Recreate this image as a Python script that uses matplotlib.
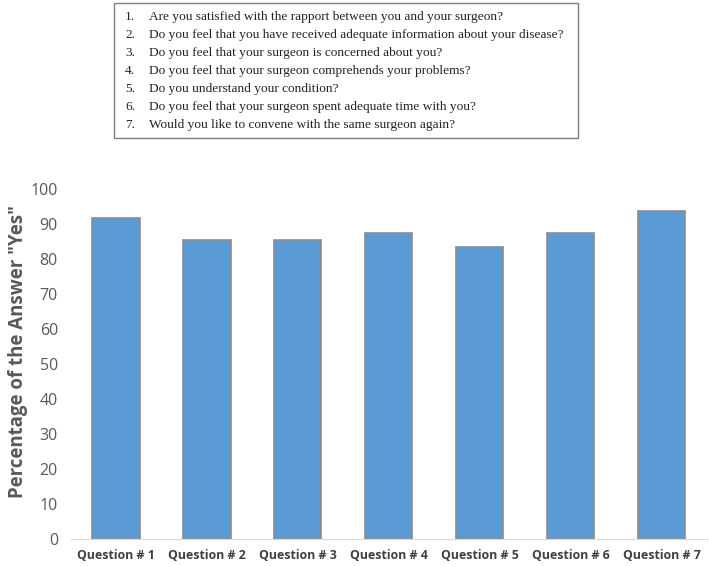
import matplotlib.pyplot as plt
from matplotlib.patches import Rectangle

categories = ['Question # 1', 'Question # 2', 'Question # 3', 'Question # 4',
              'Question # 5', 'Question # 6', 'Question # 7']
yes_pct = [91.7, 85.4, 85.4, 87.5, 83.3, 87.5, 93.8]
questions = [
    'Are you satisfied with the rapport between you and your surgeon?',
    'Do you feel that you have received adequate information about your disease?',
    'Do you feel that your surgeon is concerned about you?',
    'Do you feel that your surgeon comprehends your problems?',
    'Do you understand your condition?',
    'Do you feel that your surgeon spent adequate time with you?',
    'Would you like to convene with the same surgeon again?',
]

W, H = 709, 566
fig = plt.figure(figsize=(W / 100, H / 100), dpi=100)

# main bar chart
ax = fig.add_axes([70.5 / W, 1 - 539 / H, (707 - 70.5) / W, (539 - 189) / H])
x = range(len(categories))
ax.bar(x, yes_pct, width=0.52, color='#5b9bd5', edgecolor='#8c8c8c', linewidth=1.2)
ax.set_xlim(-0.5, len(categories) - 0.5)
ax.set_ylim(0, 100)
ax.set_yticks(range(0, 101, 10))
ax.set_xticks(list(x))
ax.set_xticklabels(categories, fontfamily='Open Sans', fontweight='bold',
                   fontsize=8.9, color='#404040')
for lab in ax.get_yticklabels():
    lab.set_fontfamily('Open Sans')
    lab.set_fontsize(11.5)
    lab.set_color('#595959')
ax.tick_params(length=0, pad=7)
ax.tick_params(axis='y', pad=9)
for s in ['top', 'right', 'left']:
    ax.spines[s].set_visible(False)
ax.spines['bottom'].set_color('#d9d9d9')
fig.text(18 / W, 1 - 352 / H, 'Percentage of the Answer "Yes"', rotation=90,
         fontfamily='Open Sans', fontweight='bold', fontsize=13.4,
         color='#595959', ha='center', va='center')

# question list box
fig.patches.append(Rectangle((114 / W, 1 - 138 / H), (578 - 114) / W, (138 - 3) / H,
                             transform=fig.transFigure, facecolor='white',
                             edgecolor='#7f7f7f', linewidth=1.0))
for i, q in enumerate(questions):
    yy = 1 - (17 + 18 * i) / H
    fig.text(125 / W, yy, f'{i + 1}.', fontfamily='Liberation Serif', fontsize=9.6,
             color='#222222', va='center')
    fig.text(149 / W, yy, q, fontfamily='Liberation Serif', fontsize=9.6,
             color='#222222', va='center')

fig.savefig('out.png', dpi=100)
